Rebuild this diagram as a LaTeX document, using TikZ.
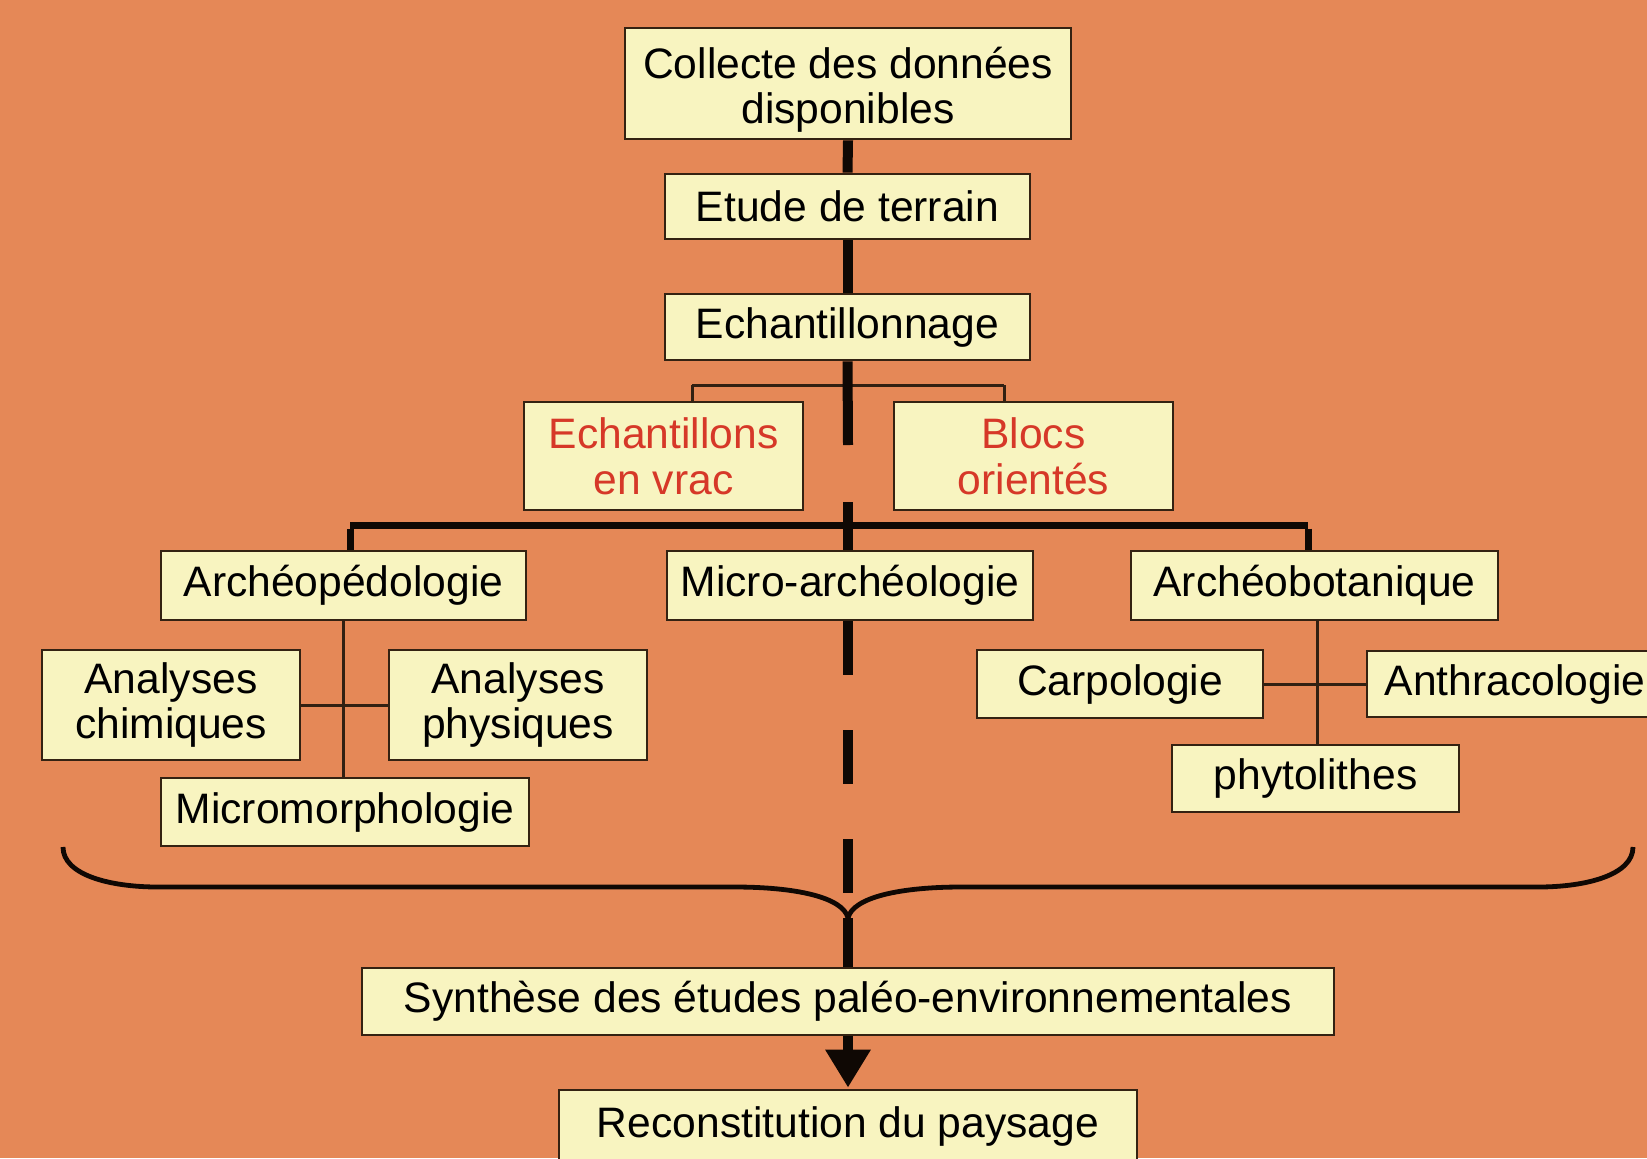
\documentclass[tikz,border=0pt]{standalone}
\usepackage{fontspec}
\setmainfont{Liberation Sans}
\usetikzlibrary{arrows.meta}
\definecolor{bgorange}{RGB}{229,136,87}
\definecolor{boxfill}{RGB}{248,244,192}
\definecolor{boxline}{RGB}{52,34,18}
\definecolor{thinline}{RGB}{50,32,18}
\definecolor{thickline}{RGB}{15,8,4}
\definecolor{redtext}{RGB}{214,56,40}
\tikzset{
  boxnode/.style={draw=boxline, fill=boxfill, line width=1.4pt, inner sep=0pt,
    align=center, font=\fontsize{21.3pt}{22.8pt}\selectfont, text=black},
  redbox/.style={boxnode, text=redtext},
  mainline/.style={draw=thickline, line width=5pt},
  hline/.style={draw=thickline, line width=3.5pt},
  slimline/.style={draw=thinline, line width=1.5pt},
  braceline/.style={draw=thickline, line width=2.4pt},
}
\begin{document}
\begin{tikzpicture}[x=0.5pt, y=-0.5pt]
\useasboundingbox (0,0) rectangle (1647,1158);
\fill[bgorange] (0,0) rectangle (1647,1158);

% coordinates
\coordinate (d1) at (848,445);
\coordinate (d2) at (848,502);
\coordinate (m1) at (848,893);
\coordinate (cusp) at (848,918);
\coordinate (lend) at (63,847);
\coordinate (rend) at (1633,847);
\coordinate (hl) at (350,525);
\coordinate (hr) at (1308,525);
\coordinate (tl) at (692,385);
\coordinate (tr) at (1004,385);

% thin connectors (under boxes)
\draw[slimline] (tl) -- (tr);
\draw[slimline] (tl) -- (692,402);
\draw[slimline] (tr) -- (1004,402);

% nodes
\node[boxnode, minimum width=223pt, minimum height=55.5pt,
  label={[align=center, font=\fontsize{21.3pt}{22.6pt}\selectfont, yshift=-3pt]center:Collecte des données\\disponibles}] (coll) at (848,83.5) {};
\node[boxnode, minimum width=182.5pt, minimum height=32.5pt] (etude) at (847.5,206.5) {Etude de terrain};
\node[boxnode, minimum width=182.5pt, minimum height=33pt] (echan) at (847.5,327) {Echantillonnage};
\node[redbox, minimum width=139.5pt, minimum height=54pt] (vrac) at (663.5,456) {Echantillons\\en vrac};
\node[redbox, minimum width=139.5pt, minimum height=54pt] (blocs) at (1033.5,456) {Blocs\\orientés};
\node[boxnode, minimum width=182.5pt, minimum height=34.5pt] (apedo) at (343.5,585.5) {Archéopédologie};
\node[boxnode, minimum width=183pt, minimum height=34.5pt] (micro) at (850,585.5) {Micro-archéologie};
\node[boxnode, minimum width=183.5pt, minimum height=34.5pt] (abot) at (1314.5,585.5) {Archéobotanique};
\node[boxnode, minimum width=129pt, minimum height=55pt] (chim) at (171,705) {Analyses\\chimiques};
\node[boxnode, minimum width=129pt, minimum height=55pt] (phys) at (518,705) {Analyses\\physiques};
\node[boxnode, minimum width=184pt, minimum height=34pt] (mmorph) at (345,812) {Micromorphologie};
\node[boxnode, minimum width=143pt, minimum height=34pt] (carpo) at (1120,684) {Carpologie};
\node[boxnode, minimum width=148pt, minimum height=33pt] (anthra) at (1515,684) {Anthracologie};
\node[boxnode, minimum width=143.5pt, minimum height=33.5pt] (phyto) at (1315.5,778.5) {phytolithes};
\node[boxnode, minimum width=486pt, minimum height=33.5pt] (synth) at (848,1001.5) {Synthèse des études paléo-environnementales};
\node[boxnode, minimum width=289pt, minimum height=36pt] (recon) at (848,1126) {Reconstitution du paysage};

% thin sub-connectors
\coordinate (apb) at (343,620);
\coordinate (abb) at (1317,620);
\draw[slimline] (apb) -- (mmorph.north -| apb);
\draw[slimline] (chim.east) -- (phys.west);
\draw[slimline] (abb) -- (phyto.north -| abb);
\draw[slimline] (carpo.east) -- (anthra.west);

% main thick line
\draw[mainline] (coll.south) -- (etude.north);
\draw[mainline] (etude.south) -- (echan.north);
\draw[mainline] (echan.south) -- (d1);
\draw[mainline] (d2) -- (micro.north -| d2);
\draw[mainline, dash pattern=on 27pt off 27.5pt] (micro.south -| m1) -- (m1);
\draw[mainline] (cusp) -- (synth.north);

% thick horizontal connector
\draw[hline] (hl) -- (hr);
\draw[hline] ([yshift=-1.75pt]hl) -- (apedo.north -| hl);
\draw[hline] ([yshift=-1.75pt]hr) -- (abot.north -| hr);

% brace
\draw[braceline] (lend) .. controls (63,875) and (110,887) .. (158,887)
  -- (735,887) .. controls (795,887) and (843,897) .. (cusp);
\draw[braceline] (rend) .. controls (1633,875) and (1586,887) .. (1538,887)
  -- (961,887) .. controls (901,887) and (853,897) .. (cusp);

% final arrow
\draw[mainline, -{Triangle[length=19pt, width=21.5pt]}] (synth.south) -- ([yshift=0.5pt]recon.north);
\end{tikzpicture}
\end{document}
